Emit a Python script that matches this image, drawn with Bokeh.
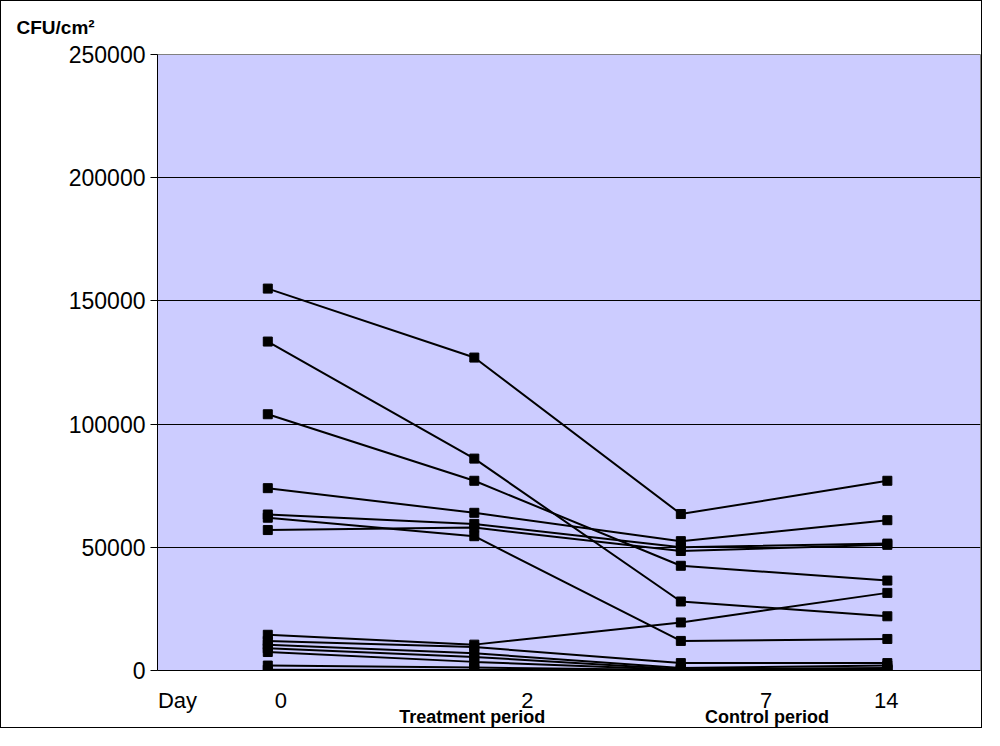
from bokeh.plotting import figure
from bokeh.models import FixedTicker, Range1d, LinearAxis
from bokeh.embed import file_html
from bokeh.resources import INLINE

# ---- data ----
day_labels = ["0", "2", "7", "14"]
day_index = [0, 1, 2, 3]

subject_01 = [155000, 127000, 63500, 77000]
subject_02 = [133500, 86000, 28000, 22000]
subject_03 = [104000, 77000, 42500, 36500]
subject_04 = [74000, 64000, 52500, 61000]
subject_05 = [63300, 59500, 50000, 51500]
subject_06 = [62000, 54500, 12000, 12800]
subject_07 = [57000, 58000, 48500, 51000]
subject_08 = [14500, 10500, 19500, 31500]
subject_09 = [12000, 9500, 3000, 3000]
subject_10 = [10500, 7000, 1000, 2000]
subject_11 = [9000, 5500, 500, 1000]
subject_12 = [7500, 3500, 300, 500]
subject_13 = [2000, 1200, 200, 300]
subject_14 = [300, 200, 100, 100]

series = [subject_01, subject_02, subject_03, subject_04, subject_05, subject_06, subject_07,
          subject_08, subject_09, subject_10, subject_11, subject_12, subject_13, subject_14]

y_ticks = [0, 50000, 100000, 150000, 200000, 250000]
y_title = "CFU/cm\u00b2"
x_prefix = "Day"
period_labels = ["Treatment period", "Control period"]

FONT = "Liberation Sans"

p = figure(width=982, height=728, output_backend="svg", toolbar_location=None,
           x_range=Range1d(-0.534, 3.451), y_range=Range1d(0, 250000),
           min_border_left=156, min_border_right=3, min_border_top=53, min_border_bottom=59,
           title=y_title)
p.styles = {"border": "1px solid black"}
p.background_fill_color = "#CCCCFF"
p.border_fill_color = "white"
p.outline_line_color = "#808080"
p.outline_line_width = 1

p.title.align = "left"
p.title.vertical_align = "top"
p.title.offset = -141
p.title.standoff = 30
p.title.text_font = FONT
p.title.text_font_size = "19px"
p.title.text_font_style = "bold"
p.title.text_color = "black"

for s in series:
    p.line(day_index, s, line_color="black", line_width=2)
    p.scatter(day_index, s, marker="square", size=9, fill_color="black", line_color="black")

# y axis
yax = p.yaxis[0]
yax.ticker = FixedTicker(ticks=y_ticks)
yax.major_label_overrides = {t: str(t) for t in y_ticks}
yax.major_label_text_font = FONT
yax.major_label_text_font_size = "23px"
yax.major_label_text_color = "black"
yax.major_tick_out = 7
yax.major_tick_in = 0
yax.minor_tick_line_color = None
yax.axis_line_color = "black"
yax.major_tick_line_color = "black"
yax.major_label_standoff = 5

# x axis: "Day" prefix and day labels
x_tick_pos = [-0.437, 0.063, 1.257, 2.413, 2.995]
x_tick_text = [x_prefix] + day_labels
xax = p.xaxis[0]
xax.ticker = FixedTicker(ticks=x_tick_pos)
xax.major_label_overrides = {pos: txt for pos, txt in zip(x_tick_pos, x_tick_text)}
xax.major_label_text_font = FONT
xax.major_label_text_font_size = "22px"
xax.major_label_text_color = "black"
xax.major_tick_out = 0
xax.major_tick_in = 0
xax.minor_tick_line_color = None
xax.axis_line_color = "black"
xax.major_label_standoff = 17

# second row: period labels
period_pos = [0.99, 2.417]
pax = LinearAxis(ticker=FixedTicker(ticks=period_pos),
                 major_label_overrides={pos: txt for pos, txt in zip(period_pos, period_labels)})
pax.major_label_text_font = FONT
pax.major_label_text_font_size = "18px"
pax.major_label_text_font_style = "bold"
pax.major_label_text_color = "black"
pax.major_tick_out = 0
pax.major_tick_in = 0
pax.minor_tick_line_color = None
pax.axis_line_color = None
pax.major_label_standoff = -9
p.add_layout(pax, "below")

p.xgrid.grid_line_color = None
p.ygrid.ticker = FixedTicker(ticks=y_ticks)
p.ygrid.grid_line_color = "black"
p.ygrid.grid_line_width = 1

open("out.html", "w").write(file_html(p, INLINE))
